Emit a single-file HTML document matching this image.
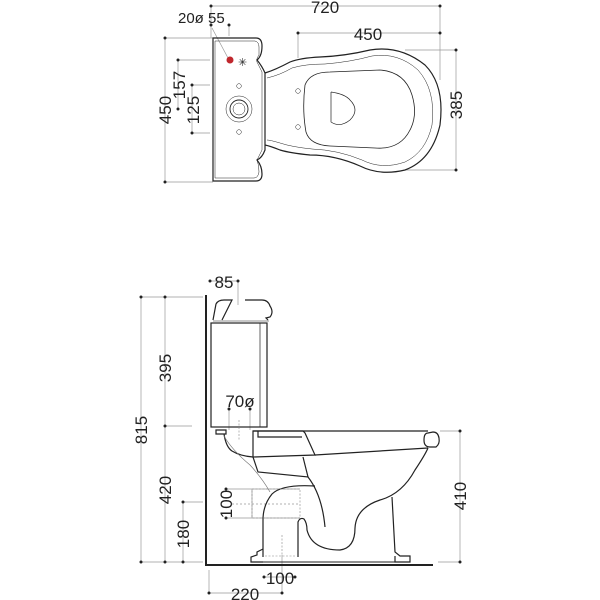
<!DOCTYPE html>
<html><head><meta charset="utf-8"><style>
html,body{margin:0;padding:0;background:#fff;}
svg{display:block;font-family:"Liberation Sans",sans-serif;}
</style></head><body>
<svg width="600" height="600" viewBox="0 0 600 600" xmlns="http://www.w3.org/2000/svg">
<g fill="#222" font-size="17">
<g stroke="#999" stroke-width="0.7" fill="none">
<line x1="211" y1="6" x2="440" y2="6"/>
<line x1="298" y1="33" x2="440" y2="33"/>
<line x1="440" y1="6" x2="440" y2="80"/>
<line x1="298" y1="33" x2="298" y2="58"/>
<line x1="456" y1="50" x2="456" y2="170"/>
<line x1="405" y1="50" x2="456" y2="50"/>
<line x1="405" y1="170" x2="456" y2="170"/>
<line x1="165" y1="38" x2="165" y2="182"/>
<line x1="165" y1="38" x2="213" y2="38"/>
<line x1="165" y1="182" x2="213" y2="182"/>
<line x1="178" y1="60" x2="178" y2="109"/>
<line x1="178" y1="60" x2="210" y2="60"/>
<line x1="192" y1="85" x2="192" y2="133"/>
<line x1="192" y1="85" x2="210" y2="85"/>
<line x1="192" y1="133" x2="210" y2="133"/>
<line x1="211" y1="6" x2="211" y2="38"/>
<line x1="212" y1="28" x2="228" y2="58"/>
<line x1="229" y1="25" x2="229" y2="36"/>
</g>
<g fill="#222">
<circle cx="211" cy="6" r="1.5"/><circle cx="440" cy="6" r="1.5"/>
<circle cx="298" cy="33" r="1.5"/><circle cx="440" cy="33" r="1.5"/>
<circle cx="456" cy="50" r="1.5"/><circle cx="456" cy="170" r="1.5"/>
<circle cx="165" cy="38" r="1.5"/><circle cx="165" cy="182" r="1.5"/>
<circle cx="178" cy="60" r="1.5"/><circle cx="178" cy="109" r="1.5"/>
<circle cx="192" cy="85" r="1.5"/><circle cx="192" cy="133" r="1.5"/>
<circle cx="211" cy="25" r="1.5"/><circle cx="229" cy="25" r="1.5"/>
</g>
<text x="325" y="13" text-anchor="middle">720</text>
<text x="368" y="40" text-anchor="middle">450</text>
<text x="178" y="23" font-size="15">20ø 55</text>
<text transform="translate(462,105) rotate(-90)" text-anchor="middle">385</text>
<text transform="translate(171,110) rotate(-90)" text-anchor="middle">450</text>
<text transform="translate(185,85) rotate(-90)" text-anchor="middle">157</text>
<text transform="translate(199,110) rotate(-90)" text-anchor="middle">125</text>
</g>
<g stroke="#222" stroke-width="1.2" fill="none">
<path d="M213 38 L256 38 Q262 38 262 46 Q262 56 257 60 Q262 66 265 73 L265 150 Q262 158 257 160 Q262 166 262 174 Q262 181 256 181 L213 181 Z"/>
<path d="M215 41 L255 41 Q259 42 259 47 L259 55 Q255 60 258 64 L262 72 L262 150 L257 160 Q259 165 259 172 Q258 178 254 178 L215 178 Z" stroke-width="0.5"/>
<path d="M265 73 Q275 70 290 62 Q300 58 320 57 Q345 56 370 50 Q400 45 425 65 Q445 85 440 125 Q432 160 405 170 Q380 176 360 166 Q335 155 310 155 Q290 153 280 150 Q270 146 265 145"/>
<path d="M267 78 Q280 75 292 68 Q305 64 325 64 Q350 62 372 56 Q398 52 418 70 Q436 90 432 125 Q426 152 405 162 Q382 170 362 160 Q338 150 312 149 Q292 147 280 143 Q270 140 267 140" stroke-width="0.5"/>
<path d="M305 85 Q310 72 330 72 L380 70 Q405 72 412 95 Q418 115 410 130 Q400 150 375 148 L330 146 Q310 145 306 132 Q302 110 305 85 Z" stroke-width="0.8"/>
<path d="M331 92 L331 122 Q340 128 350 120 Q360 110 350 100 Q345 94 331 92" stroke-width="0.7"/>
<circle cx="239" cy="109" r="13" stroke-width="0.5"/>
<circle cx="239" cy="109" r="9" stroke-width="0.9"/>
<circle cx="239" cy="109" r="6" stroke-width="0.5"/>
<circle cx="239" cy="86" r="2.3" stroke-width="0.5"/>
<circle cx="239" cy="132" r="2.3" stroke-width="0.5"/>
<circle cx="298" cy="91" r="2.3" stroke-width="0.5"/>
<circle cx="298" cy="127" r="2.3" stroke-width="0.5"/>
</g>
<circle cx="230" cy="60" r="3.5" fill="#c0272d"/>
<text x="238" y="66" font-size="11" fill="#222" font-family="DejaVu Sans">✳</text>

<g stroke="#999" stroke-width="0.7" fill="none">
<line x1="141" y1="297" x2="141" y2="562"/>
<line x1="141" y1="297" x2="203" y2="297"/>
<line x1="141" y1="562" x2="203" y2="562"/>
<line x1="165" y1="297" x2="165" y2="562"/>
<line x1="165" y1="426" x2="192" y2="426"/>
<line x1="183" y1="502" x2="183" y2="562"/>
<line x1="183" y1="502" x2="203" y2="502"/>
<line x1="460" y1="431" x2="460" y2="562"/>
<line x1="440" y1="431" x2="460" y2="431"/>
<line x1="438" y1="562" x2="460" y2="562"/>
<line x1="210" y1="281" x2="238" y2="281"/>
<line x1="238" y1="281" x2="238" y2="305"/>
<line x1="229" y1="409" x2="229" y2="430"/>
<line x1="250" y1="409" x2="250" y2="430"/>
<line x1="209" y1="570" x2="209" y2="593"/>
<line x1="209" y1="593" x2="282" y2="593"/>
<line x1="282" y1="555" x2="282" y2="593"/>
<line x1="264" y1="577" x2="295" y2="577"/>
<line x1="226" y1="489" x2="300" y2="489"/>
<line x1="226" y1="518" x2="300" y2="518"/>
<line x1="232" y1="504" x2="300" y2="504" stroke-dasharray="2 2"/>
<line x1="252" y1="489" x2="252" y2="518"/>
</g>
<g fill="#222">
<circle cx="141" cy="297" r="1.5"/><circle cx="141" cy="562" r="1.5"/>
<circle cx="165" cy="297" r="1.5"/><circle cx="165" cy="426" r="1.5"/><circle cx="165" cy="562" r="1.5"/>
<circle cx="183" cy="502" r="1.5"/><circle cx="183" cy="562" r="1.5"/>
<circle cx="460" cy="431" r="1.5"/><circle cx="460" cy="562" r="1.5"/>
<circle cx="210" cy="281" r="1.5"/><circle cx="238" cy="281" r="1.5"/>
<circle cx="229" cy="409" r="1.5"/><circle cx="250" cy="409" r="1.5"/>
<circle cx="264" cy="577" r="1.5"/><circle cx="295" cy="577" r="1.5"/>
<circle cx="209" cy="593" r="1.5"/><circle cx="282" cy="593" r="1.5"/>
<circle cx="226" cy="489" r="1.5"/><circle cx="226" cy="518" r="1.5"/>
</g>
<g fill="#222" font-size="17">
<text x="224" y="288" text-anchor="middle">85</text>
<text x="240" y="407" text-anchor="middle">70ø</text>
<text x="280" y="584" text-anchor="middle">100</text>
<text x="245" y="600" text-anchor="middle">220</text>
<text transform="translate(147,430) rotate(-90)" text-anchor="middle">815</text>
<text transform="translate(171,368) rotate(-90)" text-anchor="middle">395</text>
<text transform="translate(171,490) rotate(-90)" text-anchor="middle">420</text>
<text transform="translate(189,534) rotate(-90)" text-anchor="middle">180</text>
<text transform="translate(466,496) rotate(-90)" text-anchor="middle">410</text>
<text transform="translate(232,504) rotate(-90)" text-anchor="middle">100</text>
</g>
<g stroke="#222" stroke-width="1.2" fill="none">
<path d="M206 295 L206 565 L433 565" stroke-width="2"/>
<path d="M213 320 L216 304 Q218 300 224 300 L232 300 L222 320"/>
<path d="M245 300 L262 300 Q268 300 270 306 Q274 312 270 317 L266 318 L268 320"/>
<line x1="213" y1="321" x2="269" y2="321" stroke-width="0.6"/>
<rect x="211" y="323" width="56" height="104"/>
<line x1="260" y1="323" x2="260" y2="427" stroke-width="0.7"/>
<path d="M216 430 L226 430 L226 434 L216 434 Z"/>
<path d="M253 431 L428 431"/>
<path d="M253 431 L303 431 L305 433 L315 455 L253 457 Z"/>
<path d="M258 431 L258 437 L302 437"/>
<path d="M315 455 L428 448"/>
<path d="M428 433 Q424 433 424 440 Q424 447 430 447 L436 447 Q440 444 439 438 Q438 432 433 432 Z"/>
<path d="M224 434 Q226 447 232 451 Q240 456 253 457"/>
<path d="M224 436 Q232 450 250 465 Q262 478 270 492" stroke="#777" stroke-width="0.7"/>
<path d="M253 457 L258 472 L308 477 L303 457"/>
<path d="M308 477 Q322 495 325 527"/>
<path d="M315 486 Q282 484 272 494 Q263 505 263 520 L263 557"/>
<path d="M298 557 L298 522 Q300 517 304 519 Q307 523 307 530 Q312 550 340 550 Q355 548 355 528 Q356 508 380 500 Q402 494 415 470 Q425 455 428 448"/>
<path d="M392 497 L395 552 L400 556 L410 556 L410 562 L395 562 L395 556"/>
<path d="M263 549 L257 552 L257 555 L251 557 L251 562 L263 562"/>
<line x1="251" y1="562" x2="410" y2="562" stroke-width="0.9"/>
</g>
<g stroke="#888" stroke-width="0.6" fill="none" stroke-dasharray="2 1.5">
<rect x="252" y="489" width="48" height="29"/>
<line x1="265" y1="556" x2="295" y2="556"/>
<line x1="282" y1="535" x2="282" y2="556"/>
<line x1="239" y1="420" x2="239" y2="440"/>
</g>
</svg>
</body></html>
